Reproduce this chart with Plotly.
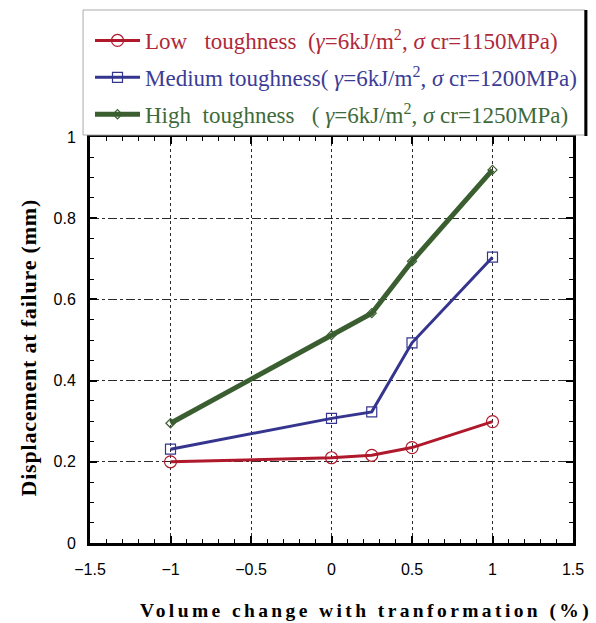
import plotly.graph_objects as go

# ---- data ----
x_vals = [-1, 0, 0.25, 0.5, 1]
low_vals = [0.200, 0.210, 0.216, 0.235, 0.299]
med_vals = [0.231, 0.307, 0.323, 0.493, 0.704]
high_vals = [0.295, 0.512, 0.566, 0.694, 0.919]

series_names = [
    "Low\u00a0\u00a0\u00a0toughness\u00a0\u00a0(<i>γ</i>=6kJ/m<sup>2</sup>,\u00a0<i>σ</i>\u00a0cr=1150MPa)",
    "Medium\u00a0toughness(\u00a0<i>γ</i>=6kJ/m<sup>2</sup>,\u00a0<i>σ</i>\u00a0cr=1200MPa)",
    "High\u00a0\u00a0toughness\u00a0\u00a0\u00a0(\u00a0<i>γ</i>=6kJ/m<sup>2</sup>,\u00a0<i>σ</i>\u00a0cr=1250MPa)",
]
x_ticks = [-1.5, -1, -0.5, 0, 0.5, 1, 1.5]
y_ticks = [0, 0.2, 0.4, 0.6, 0.8, 1]
x_title = "Volume change with tranformation (%)"
y_title = "Displacement at failure (mm)"

line_colors = ["#B0182B", "#35358F", "#3B5E31"]
text_colors = ["#B0283A", "#3C3C96", "#3E6A3A"]
line_widths = [3, 3, 5]
symbols = ["circle-open", "square-open", "diamond-open"]
msizes = [12, 10, 7]

fig = go.Figure()
for i, vals in enumerate([low_vals, med_vals, high_vals]):
    fig.add_trace(go.Scatter(
        x=x_vals, y=vals, mode="lines+markers",
        name=f"<span style='color:{text_colors[i]}'>{series_names[i]}</span>",
        legendgroup=f"g{i}",
        line=dict(color=line_colors[i], width=line_widths[i]),
        marker=dict(symbol=symbols[i], size=msizes[i],
                    line=dict(color=line_colors[i], width=1.2)),
    ))

W, H = 596, 623
L, R, T, B = 90, 19, 137, 80
pw, ph = W - L - R, H - T - B


def px(xp):
    return (xp - L) / pw


def py(yp):
    return (H - B - yp) / ph


axis_common = dict(
    showline=True, linecolor="black", linewidth=3, mirror="allticks",
    ticks="inside", tickcolor="black", tickwidth=1.5, ticklen=7,
    showgrid=True, gridcolor="#2a2a2a", gridwidth=1,
    zeroline=False,
    tickfont=dict(family="Liberation Sans, Arial", size=16, color="black"),
)

fig.update_xaxes(
    **axis_common, range=[-1.5, 1.5], tickvals=x_ticks, griddash="dot",
    ticklabelstandoff=10,
    minor=dict(ticks="inside", dtick=0.1, tick0=0, ticklen=4, tickcolor="black",
               tickwidth=1, showgrid=False),
)
fig.update_yaxes(
    **axis_common, range=[0, 1], tickvals=y_ticks, griddash="dashdot",
    ticklabelstandoff=8,
    minor=dict(ticks="inside", dtick=0.05, tick0=0, ticklen=4, tickcolor="black",
               tickwidth=1, showgrid=False),
)

fig.add_annotation(
    xref="paper", yref="paper", x=px(368), y=py(611), showarrow=False,
    xanchor="center", yanchor="middle",
    text=f"<span style='letter-spacing:3.4px'>{x_title}</span>",
    font=dict(family="Liberation Serif, Times New Roman", size=19.5, color="black",
              weight="bold"),
)
fig.add_annotation(
    xref="paper", yref="paper", x=px(27), y=py(348), showarrow=False,
    xanchor="center", yanchor="middle", textangle=-90,
    text=f"<span style='letter-spacing:0.8px'>{y_title}</span>",
    font=dict(family="Liberation Serif, Times New Roman", size=22, color="black",
              weight="bold"),
)

# legend frame
fig.add_shape(type="rect", xref="paper", yref="paper",
              x0=px(83), x1=px(589), y0=py(135), y1=py(10),
              fillcolor="white", line=dict(color="#AAAAAA", width=1), layer="above")
fig.add_shape(type="line", xref="paper", yref="paper",
              x0=px(590), x1=px(590), y0=py(136), y1=py(10),
              line=dict(color="black", width=3), layer="above")

fig.update_layout(
    width=W, height=H,
    margin=dict(l=L, r=R, t=T, b=B, pad=0),
    paper_bgcolor="white", plot_bgcolor="white",
    showlegend=True,
    legend=dict(
        x=px(90), y=py(19), xanchor="left", yanchor="top",
        bgcolor="rgba(0,0,0,0)", borderwidth=0,
        font=dict(family="Liberation Serif, Times New Roman", size=23),
        traceorder="grouped", tracegroupgap=4, itemwidth=45,
    ),
)

fig.write_html("out.html")
